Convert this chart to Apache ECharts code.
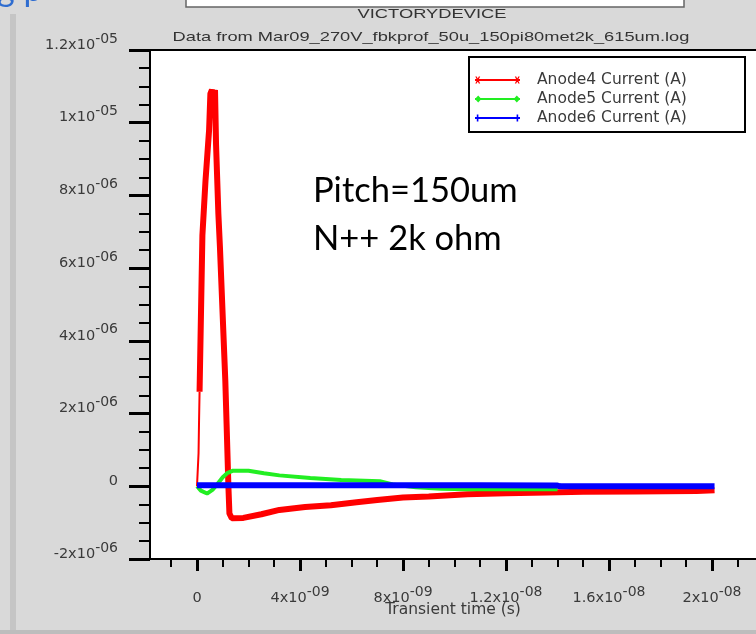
<!DOCTYPE html>
<html>
<head>
<meta charset="utf-8">
<script src="https://cdn.jsdelivr.net/npm/echarts@6/dist/echarts.min.js"></script>
<style>
  html, body { margin: 0; padding: 0; background: #d9d9d9; }
  #chart { width: 756px; height: 634px; }
</style>
</head>
<body>
<div id="chart"></div>
<script>
// ---- data (time in ns, current in microamps) ----
const anode4RiseT = [0, 0.04, 0.06, 0.08, 0.1];
const anode4RiseI = [0, 0.05, 0.9, 1.8, 2.6];
const anode4T = [0.1, 0.21, 0.33, 0.47, 0.52, 0.58, 0.64, 0.7, 0.74, 0.83, 0.89, 1.1, 1.15, 1.22, 1.26, 1.35, 1.8, 2.5, 3.2, 4.2, 5.2, 6.2, 7.0, 8.0, 9.0, 10.5, 12, 13.6, 15, 17, 19.4, 20.1];
const anode4I = [2.6, 6.9, 8.4, 9.8, 10.8, 10.9, 10.75, 10.9, 9.4, 7.5, 6.6, 2.9, 1.7, 0, -0.75, -0.88, -0.87, -0.77, -0.65, -0.57, -0.52, -0.44, -0.38, -0.31, -0.28, -0.22, -0.19, -0.17, -0.15, -0.14, -0.13, -0.11];
const anode5T = [0, 0.15, 0.39, 0.6, 0.78, 1.0, 1.17, 1.4, 2.0, 2.6, 3.2, 4.4, 5.6, 7.1, 7.6, 8.5, 9.5, 10.5, 12, 14];
const anode5I = [0, -0.12, -0.2, -0.1, 0.05, 0.25, 0.36, 0.43, 0.43, 0.36, 0.3, 0.23, 0.17, 0.14, 0.05, -0.03, -0.07, -0.08, -0.08, -0.08];
const anode6T = [0, 2, 5, 8, 11, 14, 14.1, 17, 20.1];
const anode6I = [0.03, 0.03, 0.03, 0.03, 0.03, 0.02, 0, 0, 0];

const seriesNames = ['Anode4 Current (A)', 'Anode5 Current (A)', 'Anode6 Current (A)'];

// ---- tick labels ----
const xMajorVals = [0, 4, 8, 12, 16, 20];
const xMajorMant = ['0', '4', '8', '1.2', '1.6', '2'];
const xMajorExp = ['', '-09', '-09', '-08', '-08', '-08'];
const xMinorVals = [-1, 1, 2, 3, 5, 6, 7, 9, 10, 11, 13, 14, 15, 17, 18, 19, 21];
const yTickVals = [-2, 0, 2, 4, 6, 8, 10, 12];
const yTickMant = ['-2', '0', '2', '4', '6', '8', '1', '1.2'];
const yTickExp = ['-06', '', '-06', '-06', '-06', '-06', '-05', '-05'];

const xMin = -1.825, xMax = 21.71;

function pairs(t, v) { return t.map((x, i) => [x, v[i]]); }
function fmt(vals, mant, exp) {
  return function (v) {
    const i = vals.findIndex(a => Math.abs(a - v) < 1e-6);
    if (i < 0) return '';
    return exp[i] ? '{m|' + mant[i] + 'x10}{e|' + exp[i] + '}' : '{m|' + mant[i] + '}';
  };
}
const richLbl = {
  m: { fontFamily: 'DejaVu Sans', fontSize: 14.5, color: '#3a3a3a', lineHeight: 25 },
  e: { fontFamily: 'DejaVu Sans', fontSize: 14, color: '#3a3a3a', lineHeight: 13, padding: [0, 0, 12, 0] }
};

const chart = echarts.init(document.getElementById('chart'), null, { renderer: 'canvas' });
chart.setOption({
  animation: false,
  backgroundColor: '#d9d9d9',
  grid: { left: 150, right: 0, top: 50, bottom: 75, show: true, backgroundColor: '#fff', borderWidth: 0, containLabel: false, outerBoundsMode: 'none' },
  legend: {
    orient: 'vertical', left: 475, top: 72, padding: 0,
    itemWidth: 45, itemHeight: 8, itemGap: 3, selectedMode: false,
    itemStyle: { borderWidth: 0 },
    textStyle: { fontFamily: 'DejaVu Sans', fontSize: 15.5, color: '#3a3a3a', lineHeight: 14, padding: [0, 0, 0, 12] },
    data: [
      { name: seriesNames[0], icon: 'path://M0,3L45,3L45,5L0,5Z M0.3,0.5L1.7,0.5L5.2,7.5L3.8,7.5Z M3.8,0.5L5.2,0.5L1.7,7.5L0.3,7.5Z M39.8,0.5L41.2,0.5L44.7,7.5L43.3,7.5Z M43.3,0.5L44.7,0.5L41.2,7.5L39.8,7.5Z' },
      { name: seriesNames[1], icon: 'path://M0,3L45,3L45,5L0,5Z M0,4L3.2,0.5L6.4,4L3.2,7.5Z M38.6,4L41.8,0.5L45,4L41.8,7.5Z' },
      { name: seriesNames[2], icon: 'path://M0,3L45,3L45,5L0,5Z M1.8,0.5L3.4,0.5L3.4,7.5L1.8,7.5Z M41.6,0.5L43.2,0.5L43.2,7.5L41.6,7.5Z' }
    ]
  },
  xAxis: [
    {
      type: 'value', min: xMin, max: xMax, position: 'bottom',
      axisLine: { show: true, onZero: false, lineStyle: { color: '#000', width: 2 } },
      axisTick: { show: true, customValues: xMajorVals, length: 12, lineStyle: { color: '#000', width: 3 } },
      axisLabel: { customValues: xMajorVals, margin: 27, formatter: fmt(xMajorVals, xMajorMant, xMajorExp), rich: richLbl },
      splitLine: { show: false },
      name: 'Transient time (s)', nameLocation: 'middle', nameGap: 43, nameMoveOverlap: false,
      nameTextStyle: { fontFamily: 'DejaVu Sans', fontSize: 15.5, color: '#3a3a3a' }
    },
    {
      type: 'value', min: xMin, max: xMax, position: 'bottom',
      axisLine: { show: false, onZero: false },
      axisTick: { show: true, customValues: xMinorVals, length: 8, lineStyle: { color: '#000', width: 2 } },
      axisLabel: { show: false },
      splitLine: { show: false }
    },
    {
      type: 'value', min: xMin, max: xMax, position: 'top',
      axisLine: { show: true, onZero: false, lineStyle: { color: '#000', width: 2 } },
      axisTick: { show: false }, axisLabel: { show: false }, splitLine: { show: false }
    }
  ],
  yAxis: {
    type: 'value', min: -2, max: 12, interval: 2,
    axisLine: { show: true, onZero: false, lineStyle: { color: '#000', width: 2 } },
    axisTick: { show: true, length: 21, lineStyle: { color: '#000', width: 3 } },
    minorTick: { show: true, splitNumber: 4, length: 11, lineStyle: { color: '#000', width: 2 } },
    axisLabel: { margin: 32, padding: [0, 0, 10, 0], formatter: fmt(yTickVals, yTickMant, yTickExp), rich: richLbl },
    splitLine: { show: false }, minorSplitLine: { show: false }
  },
  series: [
    { name: seriesNames[0], type: 'line', xAxisIndex: 0, data: pairs(anode4RiseT, anode4RiseI), symbol: 'none', color: '#ff0000', lineStyle: { color: '#ff0000', width: 2 } },
    { name: seriesNames[0], type: 'line', xAxisIndex: 0, data: pairs(anode4T, anode4I), symbol: 'none', color: '#ff0000', lineStyle: { color: '#ff0000', width: 6 } },
    { name: seriesNames[1], type: 'line', xAxisIndex: 0, data: pairs(anode5T, anode5I), symbol: 'none', color: '#22ee22', lineStyle: { color: '#22ee22', width: 4 } },
    { name: seriesNames[2], type: 'line', xAxisIndex: 0, data: pairs(anode6T, anode6I), symbol: 'none', color: '#0000ff', lineStyle: { color: '#0000ff', width: 6 } }
  ],
  graphic: [
    { type: 'rect', z: 3, shape: { x: 469, y: 57, width: 276, height: 75 }, style: { fill: '#fff', stroke: '#000', lineWidth: 2 } },
    { type: 'rect', shape: { x: 186, y: -5, width: 498, height: 12 }, style: { fill: '#fff', stroke: '#666', lineWidth: 1.5 } },
    { type: 'rect', shape: { x: 10, y: 14, width: 6, height: 620 }, style: { fill: '#c5c5c5' } },
    { type: 'rect', shape: { x: 0, y: 630, width: 756, height: 4 }, style: { fill: '#bdbdbd' } },
    { type: 'text', x: -3, y: 7, style: { text: 'g p', fontFamily: 'Lato', fontSize: 34, fill: '#2f6dd0', verticalAlign: 'bottom' } },
    { type: 'text', x: 432, y: 14, scaleX: 1.41, style: { text: 'VICTORYDEVICE', fontFamily: 'Liberation Sans', fontSize: 13, fill: '#333', align: 'center', verticalAlign: 'middle' } },
    { type: 'text', x: 431, y: 37, scaleX: 1.405, style: { text: 'Data from Mar09_270V_fbkprof_50u_150pi80met2k_615um.log', fontFamily: 'Liberation Sans', fontSize: 13, fill: '#333', align: 'center', verticalAlign: 'middle' } },
    { type: 'text', x: 313, y: 191, z: 5, style: { text: 'Pitch=150um', fontFamily: 'Lato', fontSize: 34.5, fill: '#000', verticalAlign: 'middle' } },
    { type: 'text', x: 313, y: 239, z: 5, style: { text: 'N++ 2k ohm', fontFamily: 'Lato', fontSize: 34.5, fill: '#000', verticalAlign: 'middle' } }
  ]
});
</script>
</body>
</html>
